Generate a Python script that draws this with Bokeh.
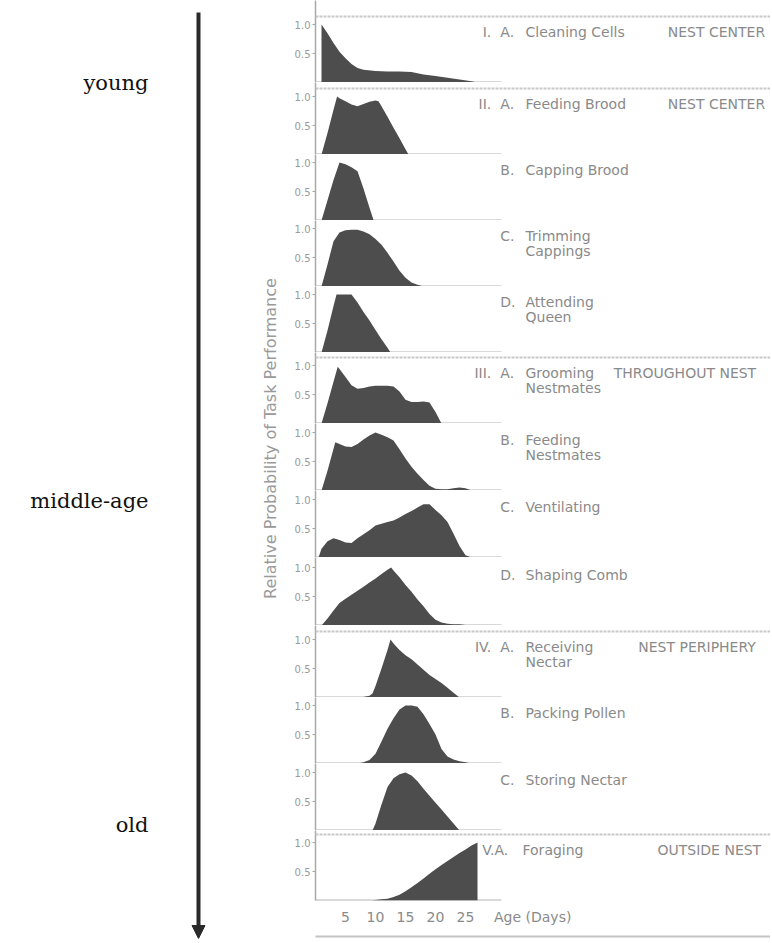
import math
from bokeh.plotting import figure
from bokeh.layouts import row, column
from bokeh.models import Range1d, FixedTicker, Span, LinearAxis, Arrow, NormalHead, NumeralTickFormatter
from bokeh.core.properties import value
from bokeh.embed import file_html
from bokeh.resources import INLINE

# ---------------- data (age in days, relative probability) ----------------
cleaning_days = [1, 2, 3, 4, 5, 6, 7, 8, 10, 12, 14, 16, 18, 20, 22, 24, 26, 27]
cleaning_vals = [1.0, 0.85, 0.68, 0.53, 0.42, 0.32, 0.25, 0.22, 0.2, 0.19, 0.19, 0.18, 0.14, 0.11, 0.08, 0.05, 0.02, 0.0]

feeding_brood_days = [1, 2, 3, 3.6, 4, 5, 6, 7, 8, 9, 10, 10.5, 11, 12, 13, 14, 15, 15.5]
feeding_brood_vals = [0, 0.37, 0.77, 1.0, 0.97, 0.92, 0.86, 0.83, 0.87, 0.91, 0.93, 0.92, 0.83, 0.65, 0.46, 0.28, 0.09, 0]

capping_days = [1, 2, 3, 4, 5, 6, 7, 8, 9, 9.7]
capping_vals = [0, 0.35, 0.7, 1.0, 0.97, 0.92, 0.85, 0.55, 0.22, 0]

trimming_days = [1, 2, 3, 4, 5, 6, 7, 8, 9, 10, 11, 12, 13, 14, 15, 16, 17, 18]
trimming_vals = [0, 0.38, 0.78, 0.93, 0.97, 0.98, 0.98, 0.95, 0.9, 0.82, 0.72, 0.58, 0.43, 0.27, 0.15, 0.07, 0.03, 0]

queen_days = [1, 2, 3, 3.5, 4, 5, 6, 7, 8, 9, 10, 11, 12, 12.5]
queen_vals = [0, 0.38, 0.8, 1.0, 1.0, 1.0, 1.0, 0.86, 0.7, 0.55, 0.39, 0.23, 0.08, 0]

grooming_days = [1, 2, 3, 3.7, 4, 5, 6, 7, 8, 9, 10, 11, 12, 13, 14, 15, 16, 17, 18, 19, 20, 21]
grooming_vals = [0, 0.35, 0.72, 0.98, 0.94, 0.8, 0.66, 0.6, 0.61, 0.64, 0.65, 0.65, 0.65, 0.64, 0.55, 0.41, 0.37, 0.37, 0.38, 0.36, 0.2, 0]

feeding_nest_days = [1, 2, 3, 3.3, 4, 5, 6, 7, 8, 9, 10, 11, 12, 13, 14, 15, 16, 17, 18, 19, 20, 21, 22, 23, 24, 25, 26]
feeding_nest_vals = [0, 0.34, 0.72, 0.83, 0.8, 0.76, 0.75, 0.8, 0.88, 0.95, 1.0, 0.96, 0.92, 0.86, 0.71, 0.55, 0.41, 0.29, 0.18, 0.08, 0.03, 0.02, 0.02, 0.04, 0.05, 0.04, 0]

vent_days = [0.5, 1, 2, 3, 4, 5, 6, 7, 8, 9, 10, 11, 12, 13, 14, 15, 16, 17, 18, 19, 20, 21, 22, 23, 24, 25, 26]
vent_vals = [0, 0.15, 0.28, 0.33, 0.3, 0.26, 0.25, 0.33, 0.4, 0.47, 0.55, 0.58, 0.61, 0.64, 0.69, 0.75, 0.8, 0.86, 0.92, 0.92, 0.82, 0.73, 0.61, 0.41, 0.2, 0.04, 0]

comb_days = [1, 2, 3, 4, 5, 6, 7, 8, 9, 10, 11, 12, 12.6, 13, 14, 15, 16, 17, 18, 19, 20, 21, 22, 23, 24, 25, 26]
comb_vals = [0, 0.12, 0.26, 0.39, 0.46, 0.53, 0.6, 0.67, 0.74, 0.81, 0.89, 0.96, 1.0, 0.95, 0.83, 0.7, 0.58, 0.45, 0.33, 0.2, 0.1, 0.05, 0.03, 0.02, 0.02, 0.01, 0]

receiving_days = [7.5, 9, 9.5, 10, 11, 12, 12.5, 13, 14, 15, 16, 17, 18, 19, 20, 21, 22, 23, 24]
receiving_vals = [0, 0.03, 0.07, 0.2, 0.5, 0.82, 1.0, 0.93, 0.82, 0.73, 0.66, 0.57, 0.48, 0.39, 0.32, 0.25, 0.17, 0.08, 0]

pollen_days = [7, 8, 9, 10, 11, 12, 13, 14, 15, 16, 17, 18, 19, 20, 21, 22, 23, 24, 25, 26]
pollen_vals = [0, 0.02, 0.06, 0.17, 0.38, 0.6, 0.78, 0.93, 1.0, 1.0, 0.98, 0.85, 0.68, 0.5, 0.25, 0.12, 0.07, 0.04, 0.02, 0]

storing_days = [9.5, 10, 11, 12, 13, 14, 15, 16, 17, 18, 19, 20, 21, 22, 23, 24]
storing_vals = [0, 0.12, 0.45, 0.75, 0.9, 0.97, 1.0, 0.95, 0.85, 0.72, 0.6, 0.48, 0.36, 0.24, 0.12, 0]

foraging_days = [9.5, 10, 11, 12, 13, 14, 15, 16, 17, 18, 19, 20, 21, 22, 23, 24, 25, 26, 27]
foraging_vals = [0, 0.01, 0.02, 0.03, 0.06, 0.1, 0.16, 0.23, 0.3, 0.38, 0.46, 0.54, 0.61, 0.68, 0.75, 0.82, 0.88, 0.95, 1.0]

series_days = [cleaning_days, feeding_brood_days, capping_days, trimming_days, queen_days,
               grooming_days, feeding_nest_days, vent_days, comb_days,
               receiving_days, pollen_days, storing_days, foraging_days]
series_vals = [cleaning_vals, feeding_brood_vals, capping_vals, trimming_vals, queen_vals,
               grooming_vals, feeding_nest_vals, vent_vals, comb_vals,
               receiving_vals, pollen_vals, storing_vals, foraging_vals]

numerals = ["I.", "II.", "", "", "", "III.", "", "", "", "IV.", "", "", "V.A."]
letters = ["A.", "A.", "B.", "C.", "D.", "A.", "B.", "C.", "D.", "A.", "B.", "C.", ""]
task_names = ["Cleaning Cells", "Feeding Brood", "Capping Brood", "Trimming\nCappings",
              "Attending\nQueen", "Grooming\nNestmates", "Feeding\nNestmates", "Ventilating",
              "Shaping Comb", "Receiving\nNectar", "Packing Pollen", "Storing Nectar", "Foraging"]
locations = ["NEST CENTER", "NEST CENTER", "", "", "", "THROUGHOUT NEST", "", "", "",
             "NEST PERIPHERY", "", "", "OUTSIDE NEST"]

age_ticks = [5, 10, 15, 20, 25]
age_title = "Age (Days)"
age_title_at = 36.2
y_ticks = [0.5, 1.0]
age_groups = ["young", "middle-age", "old"]
y_title = "Relative Probability of Task Performance"
axis_extent_days = [0, 31]

# ---------------- layout / style ----------------
PX_PER_DAY = 6.0
PX_PER_UNIT = 58.0
panel_heights = [82, 72, 66, 66, 66, 71, 67, 67, 68, 72, 66, 67, 70]
group_start = [True, True, False, False, False, True, False, False, False, True, False, False, True]
loc_x = [58.7, 58.7, 0, 0, 0, 49.7, 0, 0, 0, 53.8, 0, 0, 57.0]
LEFT_W = 290
PANEL_W = 480
BORDER_L = 25
FRAME_W = PANEL_W - BORDER_L
BOTTOM_B = 40

FILL = "#4d4d4d"
TXT = "#8a8a8a"
AXC = "#a8a8a8"
FONT = value("DejaVu Sans")
TFS = "14px"

panels = []
for i in range(13):
    h = panel_heights[i]
    last = (i == 12)
    p = figure(width=PANEL_W, height=h + (BOTTOM_B if last else 0),
               x_range=Range1d(0, FRAME_W / PX_PER_DAY), y_range=Range1d(0, h / PX_PER_UNIT),
               output_backend="svg", toolbar_location=None,
               x_axis_location="below" if last else None, y_axis_location="left",
               min_border=0, min_border_left=BORDER_L, min_border_right=0,
               min_border_top=0, min_border_bottom=BOTTOM_B if last else 0)
    p.outline_line_color = None
    p.grid.visible = False
    p.background_fill_color = "white"
    p.border_fill_color = "white"

    ya = p.yaxis[0]
    ya.ticker = FixedTicker(ticks=y_ticks)
    ya.formatter = NumeralTickFormatter(format="0.0")
    ya.axis_line_color = AXC
    ya.axis_line_width = 1.5
    ya.major_tick_line_color = AXC
    ya.major_tick_in = 0
    ya.major_tick_out = 3
    ya.minor_tick_line_color = None
    ya.major_label_text_font = "DejaVu Sans"
    ya.major_label_text_font_size = "10px"
    ya.major_label_text_color = "#9a9a9a"
    ya.major_label_standoff = 2

    if group_start[i]:
        p.add_layout(Span(location=1.14, dimension="width", line_color="#c8c8c8",
                          line_width=2, line_dash="3 1"))

    p.line(x=axis_extent_days, y=[0, 0], line_color="#b4b4b4", line_width=2)
    p.varea(x=series_days[i], y1=[0] * len(series_days[i]), y2=series_vals[i], fill_color=FILL)

    y1 = 0.87
    dy = 15 / PX_PER_UNIT
    if numerals[i]:
        if letters[i]:
            p.text(x=[29.3], y=[y1], text=[numerals[i]], text_align="right", text_baseline="middle",
                   text_font=FONT, text_font_size=TFS, text_color=TXT)
        else:
            p.text(x=[27.8], y=[y1], text=[numerals[i]], text_align="left", text_baseline="middle",
                   text_font=FONT, text_font_size=TFS, text_color=TXT)
    if letters[i]:
        p.text(x=[30.8], y=[y1], text=[letters[i]], text_align="left", text_baseline="middle",
               text_font=FONT, text_font_size=TFS, text_color=TXT)
    lines = task_names[i].split("\n")
    name_x = 35.0 if letters[i] else 34.5
    p.text(x=[name_x] * len(lines), y=[y1 - k * dy for k in range(len(lines))], text=lines,
           text_align="left", text_baseline="middle", text_font=FONT, text_font_size=TFS, text_color=TXT)
    if locations[i]:
        p.text(x=[loc_x[i]], y=[y1], text=[locations[i]], text_align="left", text_baseline="middle",
               text_font=FONT, text_font_size=TFS, text_color=TXT)

    if last:
        xa = p.xaxis[0]
        xa.ticker = FixedTicker(ticks=age_ticks + [age_title_at])
        xa.major_label_overrides = {age_title_at: age_title}
        xa.axis_line_color = None
        xa.major_tick_line_color = None
        xa.minor_tick_line_color = None
        xa.major_tick_out = 0
        xa.minor_tick_out = 0
        xa.major_label_standoff = 8
        xa.major_label_text_font = "DejaVu Sans"
        xa.major_label_text_font_size = TFS
        xa.major_label_text_color = TXT
        xa.axis_label = " "
        xa.axis_label_text_font_size = "4px"
        xa.axis_label_standoff = 1
        bottom = LinearAxis(ticker=FixedTicker(ticks=[]), axis_line_color="#c4c4c4", axis_line_width=2,
                            major_tick_line_color=None, minor_tick_line_color=None,
                            major_tick_out=0, minor_tick_out=0, major_label_text_font_size="0px")
        p.add_layout(bottom, "below")
    panels.append(p)

total_h = sum(panel_heights) + BOTTOM_B
left = figure(width=LEFT_W, height=total_h, x_range=Range1d(0, LEFT_W),
              y_range=Range1d(total_h, 0), output_backend="svg", toolbar_location=None,
              x_axis_location=None, y_axis_location=None, min_border=0)
left.outline_line_color = None
left.grid.visible = False
left.text(x=[148, 148, 148], y=[82, 500, 824], text=age_groups, text_align="right",
          text_baseline="middle", text_font=value("DejaVu Serif"), text_font_size="21px",
          text_color="#111111")
left.add_layout(Arrow(x_start=198, y_start=12, x_end=198, y_end=938, line_width=4,
                      line_color="#2a2a2a",
                      end=NormalHead(size=13, fill_color="#2a2a2a", line_color="#2a2a2a")))
left.text(x=[270], y=[438], text=[y_title], angle=math.pi / 2, text_align="center",
          text_baseline="middle", text_font=FONT, text_font_size="16px", text_color="#9a9a9a")

layout = row(left, column(*panels))
open("out.html", "w").write(file_html(layout, INLINE))
